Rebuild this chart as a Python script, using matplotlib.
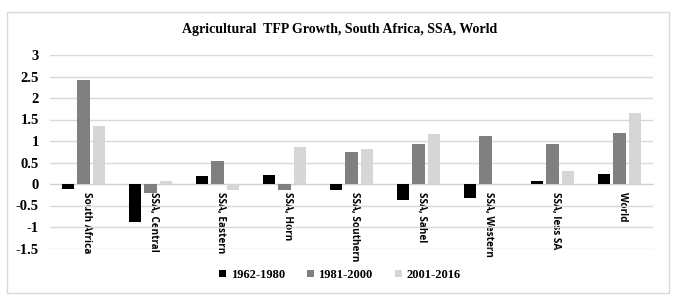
import numpy as np
import matplotlib
matplotlib.use("Agg")
import matplotlib.pyplot as plt
from matplotlib.patches import Rectangle

# Data
regions = ["South Africa", "SSA, Central", "SSA, Eastern", "SSA, Horn", "SSA, Southern",
           "SSA, Sahel", "SSA, Western", "SSA, less SA", "World"]
periods = ["1962-1980", "1981-2000", "2001-2016"]
p1962 = [-0.11, -0.88, 0.18, 0.21, -0.15, -0.37, -0.33, 0.08, 0.23]
p1981 = [2.43, -0.20, 0.53, -0.15, 0.74, 0.94, 1.11, 0.94, 1.19]
p2001 = [1.35, 0.08, -0.13, 0.86, 0.81, 1.16, 0.00, 0.30, 1.65]
colors = ["#000000", "#808080", "#d6d6d6"]

serif = "Liberation Serif"

fig = plt.figure(figsize=(6.8, 3.03), dpi=100)
ax = fig.add_axes([50 / 680, 1 - 248.5 / 303, 603 / 680, 193.5 / 303])

# outer chart border
fig.patches.append(Rectangle((7 / 680, 1 - 293 / 303), 662 / 680, 281 / 303,
                             transform=fig.transFigure, fill=False,
                             edgecolor="#d9d9d9", linewidth=1))

x = np.arange(len(regions))
width = 0.18
step = 0.225
for i, (vals, lab) in enumerate(zip([p1962, p1981, p2001], periods)):
    ax.bar(x + (i - 1) * step, vals, width, color=colors[i], label=lab, zorder=3)

ax.set_xlim(-0.5, len(regions) - 0.5)
ax.set_ylim(-1.5, 3)
ax.set_yticks(np.arange(-1.5, 3.01, 0.5))
ax.set_yticklabels(["-1.5", "-1", "-0.5", "0", "0.5", "1", "1.5", "2", "2.5", "3"],
                   fontfamily=serif, fontweight="bold", fontsize=10.5)
ax.grid(axis="y", color="#d9d9d9", linewidth=1, zorder=0)
ax.tick_params(axis="y", length=0, pad=8)

for s in ["top", "right", "left"]:
    ax.spines[s].set_visible(False)
ax.spines["bottom"].set_position(("data", 0))
ax.spines["bottom"].set_color("#d0d0d0")
ax.spines["bottom"].set_zorder(2)

ax.set_xticks(x + 0.05)
ax.set_xticklabels(regions, rotation=-90, fontfamily="Open Sans", fontweight="bold",
                   fontsize=7.2, va="top", ha="center")
ax.tick_params(axis="x", length=0, pad=6)

fig.text(0.5, 1 - 30 / 303, "Agricultural  TFP Growth, South Africa, SSA, World",
         ha="center", va="center", fontfamily=serif, fontweight="bold", fontsize=10)

fig.legend(loc="center", bbox_to_anchor=(0.5, 1 - 275 / 303), ncol=3, frameon=False,
           prop={"family": serif, "weight": "bold", "size": 9},
           handlelength=0.5, handleheight=0.5, handletextpad=0.4, columnspacing=1.8)

fig.savefig("out.png", dpi=100, facecolor="white")
